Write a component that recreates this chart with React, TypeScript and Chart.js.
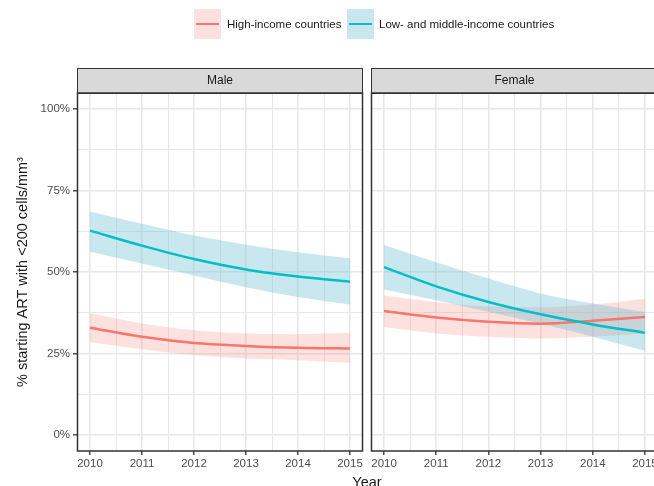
import React, { useEffect, useRef } from "react";
import { Chart, registerables } from "chart.js";

Chart.register(...registerables);

const years = [2010, 2011, 2012, 2013, 2014, 2015];
const xTickValues = [2010, 2010.5, 2011, 2011.5, 2012, 2012.5, 2013, 2013.5, 2014, 2014.5, 2015];
const yTickValues = [0, 0.125, 0.25, 0.375, 0.5, 0.625, 0.75, 0.875, 1];
const panels = ["Male", "Female"];
const seriesNames = ["High-income countries", "Low- and middle-income countries"];

const maleHighMean = [0.329, 0.301, 0.282, 0.273, 0.267, 0.265];
const maleHighLo = [0.285, 0.263, 0.245, 0.234, 0.229, 0.221];
const maleHighHi = [0.374, 0.342, 0.321, 0.311, 0.309, 0.313];
const maleLowMean = [0.627, 0.581, 0.54, 0.508, 0.486, 0.47];
const maleLowLo = [0.562, 0.526, 0.489, 0.453, 0.423, 0.4];
const maleLowHi = [0.686, 0.648, 0.612, 0.584, 0.561, 0.542];

const femaleHighMean = [0.38, 0.36, 0.347, 0.341, 0.35, 0.362];
const femaleHighLo = [0.331, 0.311, 0.301, 0.296, 0.301, 0.311];
const femaleHighHi = [0.428, 0.408, 0.394, 0.392, 0.4, 0.418];
const femaleLowMean = [0.515, 0.456, 0.408, 0.37, 0.339, 0.313];
const femaleLowLo = [0.446, 0.413, 0.377, 0.341, 0.301, 0.258];
const femaleLowHi = [0.583, 0.53, 0.48, 0.434, 0.403, 0.377];

const FONT = "'Liberation Sans', Arial, sans-serif";
const RED = "#F8766D";
const TEAL = "#00BFC4";
const RED_FILL = "rgba(248,118,109,0.22)";
const TEAL_FILL = "rgba(100,185,205,0.35)";

const pts = (arr: number[]) => years.map((x, i) => ({ x, y: arr[i] }));

function buildDatasets(hMean: number[], hLo: number[], hHi: number[], lMean: number[], lLo: number[], lHi: number[]) {
  const band = (arr: number[], fill: any, bg: string, order: number) => ({
    data: pts(arr),
    fill,
    backgroundColor: bg,
    borderColor: "rgba(0,0,0,0)",
    borderWidth: 0,
    pointRadius: 0,
    cubicInterpolationMode: "monotone",
    order,
  });
  const line = (arr: number[], color: string, order: number) => ({
    data: pts(arr),
    fill: false,
    borderColor: color,
    backgroundColor: color,
    borderWidth: 2.5,
    pointRadius: 0,
    cubicInterpolationMode: "monotone",
    order,
  });
  return [
    band(hHi, "+1", RED_FILL, 3),
    band(hLo, false, RED_FILL, 3),
    band(lHi, "+1", TEAL_FILL, 2),
    band(lLo, false, TEAL_FILL, 2),
    line(hMean, RED, 1),
    line(lMean, TEAL, 0),
  ];
}

const panelPlugin = {
  id: "panelStrip",
  afterDraw(chart: any, _args: any, opts: any) {
    const { ctx, chartArea } = chart;
    const { left, top, right, bottom } = chartArea;
    ctx.save();
    const stripH = 25;
    ctx.fillStyle = "#d9d9d9";
    ctx.fillRect(left, top - stripH, right - left, stripH);
    ctx.strokeStyle = "#333333";
    ctx.lineWidth = 1;
    ctx.strokeRect(left + 0.5, top - stripH + 0.5, right - left - 1, stripH);
    ctx.lineWidth = 1.5;
    ctx.strokeRect(left + 0.5, top, right - left - 1, bottom - top);
    ctx.fillStyle = "#1a1a1a";
    ctx.font = `12px ${FONT}`;
    ctx.textAlign = "center";
    ctx.textBaseline = "middle";
    ctx.fillText(opts.text, (left + Math.min(right, left + 287)) / 2, top - stripH / 2 + 0.5);
    ctx.restore();
  },
};

const isMajorX = (v: number) => Number.isInteger(v);
const isMajorY = (v: number) => Math.abs(v * 4 - Math.round(v * 4)) < 1e-6;

function makeOptions(showY: boolean, strip: string) {
  return {
    animation: false,
    responsive: false,
    maintainAspectRatio: false,
    layout: { padding: { top: 93, right: showY ? 3 : 8, left: 0, bottom: 0 } },
    plugins: {
      legend: { display: false },
      tooltip: { enabled: false },
      panelStrip: { text: strip },
    },
    scales: {
      x: {
        type: "linear",
        min: 2009.75,
        max: 2015.25,
        afterBuildTicks: (s: any) => {
          s.ticks = xTickValues.map((v) => ({ value: v }));
        },
        afterFit: (s: any) => {
          s.height = 35;
        },
        ticks: {
          autoSkip: false,
          maxRotation: 0,
          padding: 2,
          color: "#4d4d4d",
          font: { family: FONT, size: 11.5 },
          callback: (v: any) => (isMajorX(Number(v)) ? String(v) : ""),
        },
        grid: {
          color: "#e8e8e8",
          lineWidth: (c: any) => (c.tick && isMajorX(c.tick.value) ? 1.6 : 1.0),
          tickLength: 4,
          tickColor: (c: any) => (c.tick && isMajorX(c.tick.value) ? "#333333" : "rgba(0,0,0,0)"),
          tickWidth: 1.3,
        },
        border: { display: false },
      },
      y: {
        type: "linear",
        min: -0.05,
        max: 1.05,
        afterBuildTicks: (s: any) => {
          s.ticks = yTickValues.map((v) => ({ value: v }));
        },
        afterFit: (s: any) => {
          s.width = showY ? 77 : 5;
        },
        title: {
          display: showY,
          text: "% starting ART with <200 cells/mm³",
          color: "#1a1a1a",
          font: { family: FONT, size: 14.5 },
          padding: { top: 14, bottom: 0 },
        },
        ticks: {
          display: showY,
          padding: 3,
          color: "#4d4d4d",
          font: { family: FONT, size: 11.5 },
          callback: (v: any) => (isMajorY(Number(v)) ? `${Math.round(Number(v) * 100)}%` : ""),
        },
        grid: {
          color: "#e8e8e8",
          lineWidth: (c: any) => (c.tick && isMajorY(c.tick.value) ? 1.6 : 1.0),
          drawTicks: showY,
          tickLength: 4,
          tickColor: (c: any) => (c.tick && isMajorY(c.tick.value) ? "#333333" : "rgba(0,0,0,0)"),
          tickWidth: 1.3,
        },
        border: { display: false },
      },
    },
  } as any;
}

export default function App() {
  const leftRef = useRef<HTMLCanvasElement>(null);
  const rightRef = useRef<HTMLCanvasElement>(null);

  useEffect(() => {
    const c1 = new Chart(leftRef.current as HTMLCanvasElement, {
      type: "line",
      data: { datasets: buildDatasets(maleHighMean, maleHighLo, maleHighHi, maleLowMean, maleLowLo, maleLowHi) as any },
      options: makeOptions(true, panels[0]),
      plugins: [panelPlugin],
    });
    const c2 = new Chart(rightRef.current as HTMLCanvasElement, {
      type: "line",
      data: { datasets: buildDatasets(femaleHighMean, femaleHighLo, femaleHighHi, femaleLowMean, femaleLowLo, femaleLowHi) as any },
      options: makeOptions(false, panels[1]),
      plugins: [panelPlugin],
    });
    return () => {
      c1.destroy();
      c2.destroy();
    };
  }, []);

  const text: React.CSSProperties = {
    position: "absolute",
    fontFamily: FONT,
    fontSize: 11.5,
    color: "#1a1a1a",
    lineHeight: "14px",
    top: 17,
    whiteSpace: "nowrap",
  };
  const swatch = (left: number, fill: string): React.CSSProperties => ({
    position: "absolute",
    left,
    top: 9,
    width: 27,
    height: 30,
    background: `linear-gradient(${fill}, ${fill})`,
    boxSizing: "border-box",
  });

  return (
    <div
      style={{
        position: "fixed",
        left: 0,
        top: 0,
        width: 654,
        height: 486,
        overflow: "hidden",
        background: "#ffffff",
      }}
    >
      <canvas ref={leftRef} width={366} height={486} style={{ position: "absolute", left: 0, top: 0 }} />
      <canvas ref={rightRef} width={300} height={486} style={{ position: "absolute", left: 366, top: 0 }} />
      <div style={swatch(194, RED_FILL)}>
        <div style={{ position: "absolute", left: 2, right: 2, top: 14, height: 2, background: RED }} />
      </div>
      <div style={{ ...text, left: 227 }}>{seriesNames[0]}</div>
      <div style={swatch(347, TEAL_FILL)}>
        <div style={{ position: "absolute", left: 2, right: 2, top: 14, height: 2, background: TEAL }} />
      </div>
      <div style={{ ...text, left: 379 }}>{seriesNames[1]}</div>
      <div
        style={{
          position: "absolute",
          left: 317,
          width: 100,
          top: 474,
          textAlign: "center",
          fontFamily: FONT,
          fontSize: 14.5,
          lineHeight: "16px",
          color: "#1a1a1a",
        }}
      >
        Year
      </div>
    </div>
  );
}
